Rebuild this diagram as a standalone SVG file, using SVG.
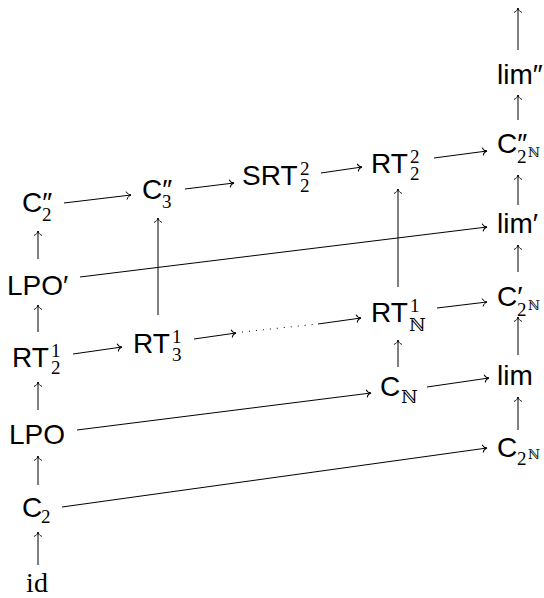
<svg xmlns="http://www.w3.org/2000/svg" width="544" height="598" viewBox="0 0 544 598">
<defs>
<style>
.m{font-family:"Liberation Sans",Arial,sans-serif;font-size:28px;fill:#000}
.r{font-family:"Liberation Serif","Times New Roman",serif;font-size:28px;fill:#000}
.s{font-family:"Liberation Serif","Times New Roman",serif;font-size:19px}
.n{font-family:"DejaVu Serif",serif;font-size:18px}
.nn{font-family:"DejaVu Serif",serif;font-size:13px}
.e{fill:none;stroke:#000;stroke-width:1}
.d{fill:none;stroke:#000;stroke-width:1;stroke-dasharray:1 6}
</style>
<marker id="ah" markerUnits="userSpaceOnUse" viewBox="-5 -5 6 10" refX="0" refY="0" markerWidth="6" markerHeight="10" orient="auto" overflow="visible">
<path d="M-4.3,-3.6 C-3.6,-1.4 -1.3,-0.3 0,0 C-1.3,0.3 -3.6,1.4 -4.3,3.6" fill="none" stroke="#000" stroke-width="0.95" stroke-linecap="round"/>
</marker>
</defs>

<g id="connectors">
<line class="e" x1="38" y1="565" x2="38" y2="532" marker-end="url(#ah)"/>
<line class="e" x1="38" y1="485" x2="38" y2="456" marker-end="url(#ah)"/>
<line class="e" x1="38" y1="410" x2="38" y2="382" marker-end="url(#ah)"/>
<line class="e" x1="38" y1="332" x2="38" y2="305" marker-end="url(#ah)"/>
<line class="e" x1="38" y1="259" x2="38" y2="231" marker-end="url(#ah)"/>
<line class="e" x1="64" y1="203" x2="131" y2="195" marker-end="url(#ah)"/>
<line class="e" x1="185" y1="189" x2="234" y2="183" marker-end="url(#ah)"/>
<line class="e" x1="321" y1="173" x2="362" y2="167" marker-end="url(#ah)"/>
<line class="e" x1="434" y1="158" x2="487" y2="151" marker-end="url(#ah)"/>
<line class="e" x1="518" y1="120" x2="518" y2="95" marker-end="url(#ah)"/>
<line class="e" x1="518" y1="50" x2="518" y2="8" marker-end="url(#ah)"/>
<line class="e" x1="518" y1="205" x2="518" y2="175" marker-end="url(#ah)"/>
<line class="e" x1="518" y1="272" x2="518" y2="245" marker-end="url(#ah)"/>
<line class="e" x1="518" y1="355" x2="518" y2="317" marker-end="url(#ah)"/>
<line class="e" x1="518" y1="430" x2="518" y2="397" marker-end="url(#ah)"/>
<line class="e" x1="80" y1="277" x2="487" y2="227" marker-end="url(#ah)"/>
<line class="e" x1="73" y1="354" x2="122" y2="347" marker-end="url(#ah)"/>
<line class="e" x1="194" y1="339" x2="236" y2="333" marker-end="url(#ah)"/>
<line class="d" x1="242" y1="332" x2="318" y2="324"/>
<line class="e" x1="318" y1="324" x2="361" y2="318" marker-end="url(#ah)"/>
<line class="e" x1="158" y1="315" x2="158" y2="218" marker-end="url(#ah)"/>
<line class="e" x1="398" y1="287" x2="398" y2="189" marker-end="url(#ah)"/>
<line class="e" x1="398" y1="367" x2="398" y2="340" marker-end="url(#ah)"/>
<line class="e" x1="437" y1="308" x2="487" y2="302" marker-end="url(#ah)"/>
<line class="e" x1="427" y1="387" x2="489" y2="378" marker-end="url(#ah)"/>
<line class="e" x1="77" y1="430" x2="371" y2="393" marker-end="url(#ah)"/>
<line class="e" x1="62" y1="507" x2="487" y2="448" marker-end="url(#ah)"/>
</g>

<g id="id"><text class="r" x="37" y="592" text-anchor="middle">id</text></g>
<g id="C2"><text class="m" x="22" y="517">C<tspan class="s" x="41" y="523">2</tspan></text></g>
<g id="LPO"><text class="m" x="9" y="444">LPO</text></g>
<g id="RT12"><text class="m" x="12" y="367">RT<tspan class="s" x="51" y="357">1</tspan><tspan class="s" x="51" y="374">2</tspan></text></g>
<g id="LPOp"><text class="m" x="7" y="295">LPO′</text></g>
<g id="C2pp"><text class="m" x="22" y="212">C″<tspan class="s" x="42" y="221">2</tspan></text></g>
<g id="RT13"><text class="m" x="133" y="353">RT<tspan class="s" x="172" y="343">1</tspan><tspan class="s" x="172" y="361">3</tspan></text></g>
<g id="C3pp"><text class="m" x="142" y="199">C″<tspan class="s" x="162" y="208">3</tspan></text></g>
<g id="SRT22"><text class="m" x="242" y="185">SRT<tspan class="s" x="300" y="175">2</tspan><tspan class="s" x="300" y="192">2</tspan></text></g>
<g id="RT22"><text class="m" x="371" y="173">RT<tspan class="s" x="410" y="163">2</tspan><tspan class="s" x="410" y="180">2</tspan></text></g>
<g id="RT1N"><text class="m" x="371" y="322">RT<tspan class="s" x="410" y="312">1</tspan><tspan class="n" x="409" y="331">ℕ</tspan></text></g>
<g id="CN"><text class="m" x="380" y="396">C<tspan class="n" x="401" y="403">ℕ</tspan></text></g>
<g id="limpp"><text class="m" x="497" y="84">lim″</text></g>
<g id="C2Npp"><text class="m" x="497" y="153">C″<tspan class="s" x="517" y="163">2</tspan><tspan class="nn" x="528" y="157">ℕ</tspan></text></g>
<g id="limp"><text class="m" x="497" y="233">lim′</text></g>
<g id="C2Np"><text class="m" x="497" y="306">C′<tspan class="s" x="517" y="316">2</tspan><tspan class="nn" x="528" y="310">ℕ</tspan></text></g>
<g id="lim"><text class="m" x="497" y="385">lim</text></g>
<g id="C2N"><text class="m" x="497" y="457">C<tspan class="s" x="517" y="465">2</tspan><tspan class="nn" x="528" y="459">ℕ</tspan></text></g>
</svg>
